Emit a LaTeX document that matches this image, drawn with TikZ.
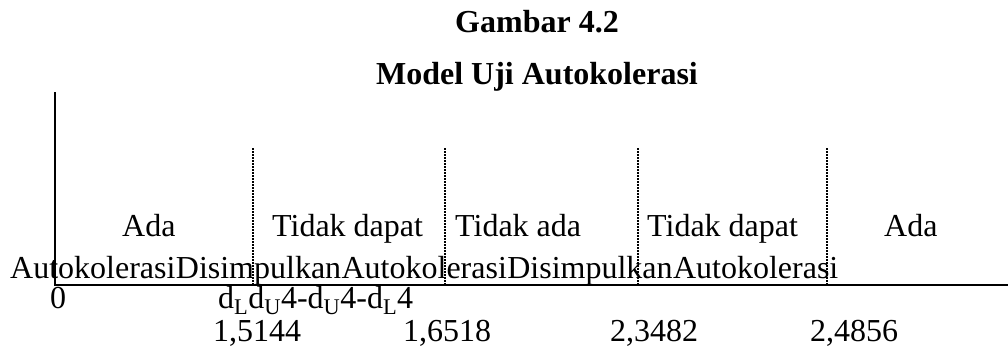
\documentclass[tikz,border=0pt]{standalone}
\usepackage{fontspec}
\setmainfont{Liberation Serif}
\begin{document}
\begin{tikzpicture}[x=1pt,y=-1pt,
  lbl/.style={inner sep=0pt,anchor=base west,font=\fontsize{32}{38}\selectfont},
  ttl/.style={inner sep=0pt,anchor=base,font=\fontsize{32}{38}\selectfont\bfseries},
  axisline/.style={line width=2pt},
  divider/.style={line width=2pt,dash pattern=on 1.6pt off 1.4pt}]
  \useasboundingbox (0,0) rectangle (1008,351);

  % title
  \node[ttl] (t1) at (537,32) {Gambar 4.2};
  \node[ttl] (t2) at (537,84) {Model Uji Autokolerasi};

  % axes
  \coordinate (vtop) at (55,92);
  \coordinate (orig) at (55,285);
  \coordinate (xend) at (1008,285);
  \draw[axisline] (vtop) -- (orig) -- (xend);

  % region borders
  \foreach \i/\x in {1/253,2/445,3/638,4/827}{
    \coordinate (b\i top) at (\x,148);
    \coordinate (b\i bot) at (\x,285);
    \draw[divider] (b\i top) -- (b\i bot);
  }

  % region labels, first line
  \node[lbl] (ra1) at (122,236) {Ada};
  \node[lbl] (rb1) at (272,236) {Tidak dapat};
  \node[lbl] (rc1) at (455,236) {Tidak ada};
  \node[lbl] (rd1) at (647,236) {Tidak dapat};
  \node[lbl] (re1) at (884,236) {Ada};

  % region labels, second line
  \node[lbl] (ra2) at (10,278) {Autokolerasi};
  \node[lbl] (rb2) at (ra2.base east) {Disimpulkan};
  \node[lbl] (rc2) at (rb2.base east) {Autokolerasi};
  \node[lbl] (rd2) at (rc2.base east) {Disimpulkan};
  \node[lbl] (re2) at (rd2.base east) {Autokolerasi};

  % axis labels
  \node[lbl] (zero) at (50,308) {0};
  \node[lbl] (dlab) at (218,308) {d\textsubscript{L}d\textsubscript{U}4-d\textsubscript{U}4-d\textsubscript{L}4};

  % critical values
  \node[lbl] (v1) at (213,341) {1,5144};
  \node[lbl] (v2) at (403,341) {1,6518};
  \node[lbl] (v3) at (610,341) {2,3482};
  \node[lbl] (v4) at (810,341) {2,4856};
\end{tikzpicture}
\end{document}
